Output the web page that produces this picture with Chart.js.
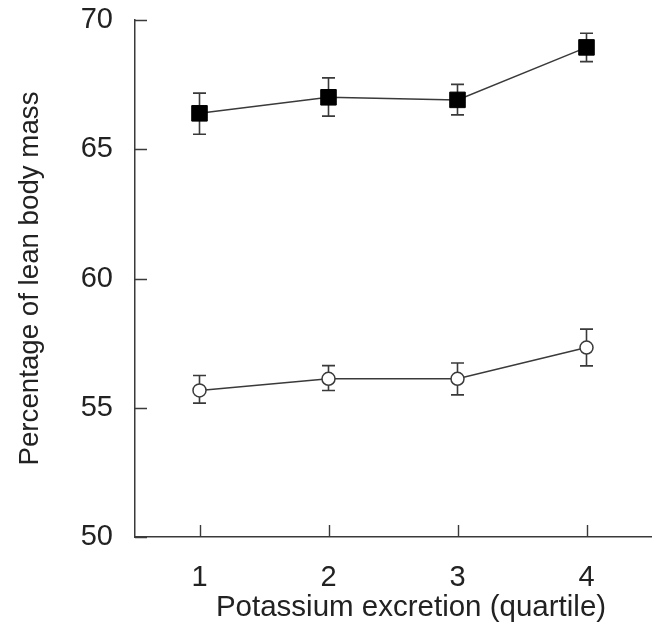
<!DOCTYPE html>
<html>
<head>
<meta charset="utf-8">
<script src="https://cdn.jsdelivr.net/npm/chart.js@4/dist/chart.umd.min.js"></script>
<style>
  html, body { margin: 0; padding: 0; background: #fff; }
  #wrap { width: 658px; height: 634px; }
</style>
</head>
<body>
<div id="wrap"><canvas id="c" width="658" height="634"></canvas></div>
<script>
// ---- data ----
const quartiles = [1, 2, 3, 4];
const xTickLabels = ['1', '2', '3', '4'];
const yTickValues = [50, 55, 60, 65, 70];

const menMean  = [66.39, 67.01, 66.91, 68.94];
const menUpper = [67.17, 67.76, 67.51, 69.49];
const menLower = [65.58, 66.28, 66.33, 68.39];

const womenMean  = [55.67, 56.12, 56.12, 57.33];
const womenUpper = [56.25, 56.63, 56.73, 58.04];
const womenLower = [55.18, 55.67, 55.50, 56.62];

const xTitle = 'Potassium excretion (quartile)';
const yTitle = 'Percentage of lean body mass';

const AX = '#3a3a3a';
const FONT = "'Liberation Sans', Arial, Helvetica, sans-serif";

function pts(vals) { return quartiles.map((q, i) => ({ x: q, y: vals[i] })); }

// error bars via scales
const errorBars = {
  id: 'errorBars',
  beforeDatasetsDraw(chart) {
    const { ctx, scales: { x, y } } = chart;
    const sets = [[menUpper, menLower], [womenUpper, womenLower]];
    ctx.save();
    ctx.strokeStyle = AX;
    ctx.lineWidth = 1.6;
    const cap = 6.5;
    sets.forEach(([up, lo]) => {
      quartiles.forEach((q, i) => {
        const px = x.getPixelForValue(q);
        const pu = y.getPixelForValue(up[i]);
        const pl = y.getPixelForValue(lo[i]);
        ctx.beginPath();
        ctx.moveTo(px, pu); ctx.lineTo(px, pl);
        ctx.moveTo(px - cap, pu); ctx.lineTo(px + cap, pu);
        ctx.moveTo(px - cap, pl); ctx.lineTo(px + cap, pl);
        ctx.stroke();
      });
    });
    ctx.restore();
  }
};

// inward tick marks via scales, and the x-axis title (slightly right of centre, as in the original)
const inwardTicks = {
  id: 'inwardTicks',
  afterDraw(chart) {
    const { ctx, chartArea: a, scales: { x, y } } = chart;
    ctx.save();
    ctx.strokeStyle = AX;
    ctx.lineWidth = 1.4;
    const len = 12;
    ctx.beginPath();
    quartiles.forEach(q => {
      const px = Math.round(x.getPixelForValue(q)) + 0.5;
      ctx.moveTo(px, a.bottom); ctx.lineTo(px, a.bottom - len);
    });
    yTickValues.forEach(v => {
      const py = Math.round(y.getPixelForValue(v)) + 0.5;
      ctx.moveTo(a.left, py); ctx.lineTo(a.left + len, py);
    });
    ctx.stroke();

    ctx.fillStyle = '#222';
    ctx.font = "29.5px " + FONT;
    ctx.textAlign = 'center';
    ctx.textBaseline = 'middle';
    ctx.fillText(xTitle, (a.left + a.right) / 2 + 18, x.bottom - 8 - 17.7);
    ctx.restore();
  }
};

new Chart(document.getElementById('c'), {
  type: 'line',
  data: {
    datasets: [
      {
        data: pts(menMean),
        borderColor: AX, borderWidth: 1.5,
        pointStyle: 'rect', pointRadius: 11, pointHoverRadius: 11,
        pointBackgroundColor: '#000', pointBorderColor: '#000', pointBorderWidth: 1,
        tension: 0, fill: false, clip: false
      },
      {
        data: pts(womenMean),
        borderColor: AX, borderWidth: 1.5,
        pointStyle: 'circle', pointRadius: 6.5, pointHoverRadius: 6.5,
        pointBackgroundColor: '#fff', pointBorderColor: AX, pointBorderWidth: 1.5,
        tension: 0, fill: false, clip: false
      }
    ]
  },
  options: {
    responsive: false,
    animation: false,
    events: [],
    layout: { autoPadding: false, padding: { top: 20, right: 7, left: 0, bottom: 0 } },
    plugins: { legend: { display: false }, tooltip: { enabled: false } },
    scales: {
      x: {
        type: 'linear', min: 0.5, max: 4.5,
        afterBuildTicks(s) { s.ticks = quartiles.map(v => ({ value: v })); },
        afterFit(s) { s.height = 97; s.paddingLeft = 0; s.paddingRight = 0; },
        grid: { display: false, drawTicks: false },
        border: { display: true, color: AX, width: 1.5 },
        ticks: {
          color: '#222', padding: 24,
          font: { family: FONT, size: 29 },
          callback: (v) => xTickLabels[quartiles.indexOf(v)]
        },
        title: { display: false }
      },
      y: {
        type: 'linear', min: 50, max: 70,
        afterBuildTicks(s) { s.ticks = yTickValues.map(v => ({ value: v })); },
        afterFit(s) { s.width = 135; s.paddingTop = 0; s.paddingBottom = 0; },
        grid: { display: false, drawTicks: false },
        border: { display: true, color: AX, width: 1.5 },
        ticks: {
          color: '#222', padding: 22,
          font: { family: FONT, size: 29 }
        },
        title: {
          display: true, text: yTitle, color: '#222',
          font: { family: FONT, size: 27.7 },
          padding: { top: 14, bottom: 0 }
        }
      }
    }
  },
  plugins: [errorBars, inwardTicks]
});
</script>
</body>
</html>
